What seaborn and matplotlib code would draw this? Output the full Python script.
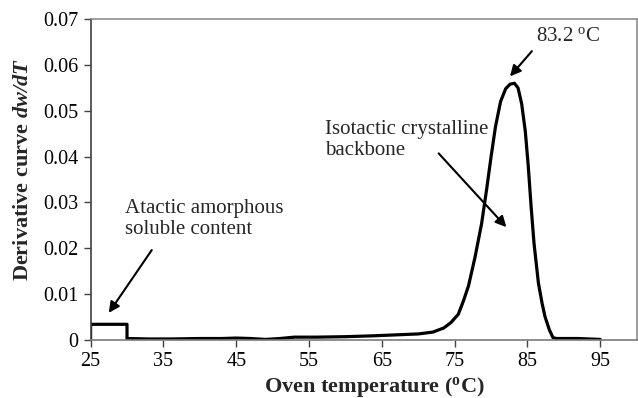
import matplotlib
matplotlib.use("Agg")
import matplotlib.pyplot as plt
import seaborn as sns
import pandas as pd

# Oven temperature (°C) and derivative curve dw/dT of the TREF profile
temperature = [25, 25, 30, 30, 33, 36, 40, 43, 45, 47, 49, 51, 53, 56, 60, 64, 67,
               70, 72, 73.5, 74.5, 75.5, 76.2, 76.9, 77.8, 78.7, 79.4, 80.0, 80.6,
               81.3, 82.0, 82.6, 83.2, 83.7, 84.2, 84.7, 85.1, 85.5, 85.9, 86.5,
               87.0, 87.4, 88.0, 88.5, 89.0, 92.0, 95.0]
dw_dT = [0.0, 0.0034, 0.0034, 0.0003, 0.0002, 0.0002, 0.0003, 0.0003, 0.0004,
         0.0003, 0.0001, 0.0003, 0.0006, 0.0006, 0.0007, 0.0009, 0.0011,
         0.0013, 0.0017, 0.0026, 0.0038, 0.0056, 0.0085, 0.0118, 0.0181,
         0.0254, 0.0330, 0.0400, 0.0465, 0.0520, 0.0548, 0.0558, 0.0560,
         0.0550, 0.0515, 0.0455, 0.0380, 0.0290, 0.0210, 0.0124, 0.0080,
         0.0051, 0.0022, 0.0005, 0.0003, 0.0003, 0.0001]

x_ticks = [25, 35, 45, 55, 65, 75, 85, 95]
y_ticks = [0, 0.01, 0.02, 0.03, 0.04, 0.05, 0.06, 0.07]
y_tick_labels = ["0", "0.01", "0.02", "0.03", "0.04", "0.05", "0.06", "0.07"]

peak_temperature = 83.2

sns.set_theme(style="white")
plt.rcParams["font.family"] = ["Liberation Serif", "DejaVu Serif"]
plt.rcParams["mathtext.fontset"] = "custom"
plt.rcParams["mathtext.rm"] = "Liberation Serif"
plt.rcParams["mathtext.it"] = "Liberation Serif:italic"
plt.rcParams["mathtext.bf"] = "Liberation Serif:bold"
plt.rcParams["mathtext.bfit"] = "Liberation Serif:italic:bold"

df = pd.DataFrame({"temperature": temperature, "dwdT": dw_dT})

fig, ax = plt.subplots(figsize=(6.38, 3.98), dpi=100)
fig.subplots_adjust(left=0.142, right=0.998, bottom=0.146, top=0.952)

sns.lineplot(data=df, x="temperature", y="dwdT", sort=False, estimator=None,
             color="black", linewidth=2.3, ax=ax, solid_joinstyle="round")

ax.set_xlim(25, 100)
ax.set_ylim(0, 0.07)
ax.set_xticks(x_ticks)
ax.set_xticklabels([str(t) for t in x_ticks])
ax.set_yticks(y_ticks)
ax.set_yticklabels(y_tick_labels)
ax.tick_params(axis="both", which="major", direction="out", length=5, width=1,
               color="#404040", labelsize=14.5, labelcolor="black", pad=4)
ax.tick_params(axis="x", bottom=True)
ax.tick_params(axis="y", left=True)

for side in ["top", "right"]:
    ax.spines[side].set_color("#8c8c8c")
    ax.spines[side].set_linewidth(1.2)
ax.spines["left"].set_color("#404040")
ax.spines["bottom"].set_color("#7a7a7a")
ax.spines["left"].set_linewidth(1.2)
ax.spines["bottom"].set_linewidth(1.2)

ax.set_xlabel(r"Oven temperature ($\mathbf{^{o}}$C)", fontsize=16,
              fontweight="bold")
ax.set_ylabel(r"Derivative curve $\mathbfit{dw/dT}$", fontsize=16,
              fontweight="bold")
ax.xaxis.set_label_coords(0.519, -0.108)
ax.yaxis.set_label_coords(-0.106, 0.53)

arrow = dict(arrowstyle="-|>", lw=1.5, color="black", mutation_scale=16,
             shrinkA=0, shrinkB=0)

ax.text(86.2, 0.0662, r"%.1f $^{\rm o}$C" % peak_temperature, fontsize=15,
        ha="left", va="center")
ax.annotate("", xy=(82.6, 0.0575), xytext=(85.6, 0.0630), arrowprops=arrow)

ax.text(57.2, 0.0436, "Isotactic crystalline\nbackbone", fontsize=15,
        ha="left", va="center", linespacing=1.15)
ax.annotate("", xy=(82.1, 0.0246), xytext=(72.8, 0.0407), arrowprops=arrow)

ax.text(29.7, 0.0263, "Atactic amorphous\nsoluble content", fontsize=15,
        ha="left", va="center", linespacing=1.15)
ax.annotate("", xy=(27.5, 0.0059), xytext=(33.4, 0.0196), arrowprops=arrow)

fig.savefig("out.png", dpi=100)
